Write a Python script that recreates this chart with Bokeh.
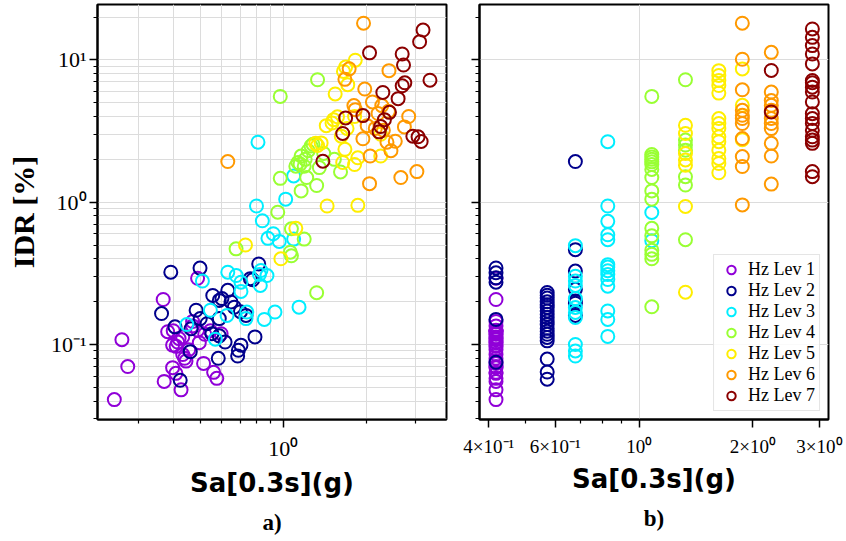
from bokeh.plotting import figure
from bokeh.models import Range1d, FixedTicker, CustomJSTickFormatter, Title
from bokeh.layouts import row
from bokeh.embed import file_html
from bokeh.resources import INLINE

levels = ["Hz Lev 1", "Hz Lev 2", "Hz Lev 3", "Hz Lev 4", "Hz Lev 5", "Hz Lev 6", "Hz Lev 7"]
colors = ["#9000d8", "#00008c", "#00eeff", "#99ff33", "#ffee00", "#ff9900", "#8b0000"]

# ---- panel a): Sa of each record vs IDR ----
hz1_sa_a = [0.368, 0.261, 0.274, 0.245, 0.371, 0.398, 0.409, 0.427, 0.515, 0.56, 0.575, 0.382, 0.398, 0.415, 0.433,
            0.433, 0.445, 0.44, 0.497, 0.49, 0.596, 0.49, 0.40, 0.47, 0.52, 0.455, 0.42, 0.545, 0.47, 0.41]
hz1_idr_a = [0.207, 0.108, 0.070, 0.041, 0.055, 0.0687, 0.0627, 0.048, 0.0736, 0.0637, 0.0578, 0.123, 0.099, 0.104, 0.113,
             0.085, 0.0764, 0.080, 0.103, 0.126, 0.119, 0.292, 0.125, 0.135, 0.118, 0.092, 0.110, 0.125, 0.145, 0.097]

hz2_sa_a = [0.392, 0.50, 0.775, 0.815, 0.63, 0.556, 0.587, 0.647, 0.665, 0.484, 0.363, 0.501, 0.587, 0.733, 0.406,
            0.464, 0.552, 0.587, 0.616, 0.703, 0.688, 0.684, 0.79, 0.461, 0.582, 0.424, 0.60, 0.70, 0.53, 0.76]
hz2_idr_a = [0.322, 0.344, 0.285, 0.368, 0.24, 0.221, 0.204, 0.199, 0.183, 0.174, 0.165, 0.152, 0.152, 0.160, 0.133,
             0.129, 0.119, 0.115, 0.104, 0.0989, 0.091, 0.083, 0.113, 0.089, 0.080, 0.056, 0.21, 0.17, 0.14, 0.29]

hz3_sa_a = [0.81, 1.09, 1.02, 0.80, 0.84, 0.88, 0.92, 0.967, 1.09, 0.51, 0.63, 0.676, 0.703, 0.703, 0.83,
            0.873, 0.826, 0.448, 0.545, 0.626, 0.738, 0.733, 0.854, 0.933, 1.14, 0.568, 0.82]
hz3_idr_a = [2.64, 1.53, 1.05, 0.94, 0.74, 0.557, 0.60, 0.53, 0.55, 0.279, 0.322, 0.305, 0.274, 0.236, 0.331,
             0.305, 0.26, 0.138, 0.174, 0.160, 0.169, 0.152, 0.150, 0.169, 0.183, 0.109, 0.31]

hz4_sa_a = [1.33, 0.975, 1.32, 1.53, 1.61, 1.35, 1.215, 1.32, 1.16, 0.975, 0.955, 1.16, 1.13, 1.19, 1.26,
            1.11, 1.19, 1.07, 1.06, 1.07, 0.675, 1.20, 1.23, 1.28, 1.15, 1.40]
hz4_idr_a = [7.25, 5.54, 0.231, 2.0, 1.63, 1.75, 1.49, 1.31, 1.20, 1.47, 0.85, 2.11, 1.90, 1.79, 2.48,
             1.79, 0.55, 0.65, 0.445, 0.42, 0.47, 2.0, 2.3, 2.55, 1.85, 2.2]

hz5_sa_a = [1.82, 1.65, 1.71, 1.54, 1.43, 1.52, 1.57, 1.81, 1.62, 1.67, 1.64, 1.81, 1.86, 2.25, 1.31,
            1.37, 1.44, 1.86, 0.73, 1.11, 0.98, 1.68, 2.25, 1.50, 1.70, 1.33]
hz5_idr_a = [9.95, 8.3, 6.7, 5.76, 3.45, 3.8, 3.98, 4.0, 2.91, 2.35, 1.90, 1.84, 2.05, 2.11, 2.59,
             2.61, 0.94, 0.95, 0.50, 0.655, 0.40, 8.9, 3.0, 3.6, 3.3, 2.5]

hz6_sa_a = [1.95, 2.41, 1.73, 1.67, 1.97, 2.10, 1.80, 2.27, 2.40, 2.84, 1.82, 2.74, 2.01, 1.94, 2.37,
            2.54, 2.06, 2.05, 2.66, 3.04, 0.63, 2.15, 2.30, 2.45, 2.20]
hz6_idr_a = [18.1, 8.4, 8.65, 7.3, 6.24, 5.06, 4.77, 4.77, 4.35, 4.0, 4.47, 3.38, 3.45, 2.79, 2.64,
             2.68, 2.11, 1.35, 1.49, 1.64, 1.93, 3.3, 3.2, 2.3, 4.2]

hz7_sa_a = [3.2, 3.11, 2.05, 2.69, 2.72, 3.39, 2.29, 2.69, 2.75, 2.60, 1.68, 1.94, 2.32, 2.42, 1.64,
            2.22, 2.94, 3.07, 3.15, 1.39, 2.25]
hz7_idr_a = [16.2, 13.4, 11.2, 11.0, 9.2, 7.2, 5.9, 6.58, 6.9, 5.34, 3.91, 4.06, 3.80, 4.28, 3.04,
             3.12, 2.91, 2.88, 2.67, 1.94, 3.4]

# ---- panel b): Sa of hazard level vs IDR ----
hz1_sa_b = [0.418] * 30
hz1_idr_b = hz1_idr_a

hz2_sa_b = [0.418] * 6 + [0.571] * 19 + [0.678] * 7
hz2_idr_b = [0.345, 0.319, 0.294, 0.274, 0.150, 0.075,
             0.232, 0.222, 0.212, 0.20, 0.19, 0.182, 0.172, 0.163, 0.155, 0.146, 0.138, 0.13, 0.124, 0.118,
             0.112, 0.106, 0.079, 0.064, 0.057,
             1.93, 0.464, 0.328, 0.244, 0.202, 0.195, 0.16]

hz3_sa_b = [0.678] * 11 + [0.826] * 14 + [1.08] * 2
hz3_idr_b = [0.495, 0.302, 0.279, 0.182, 0.168, 0.155, 0.10, 0.090, 0.083, 0.26, 0.21,
             2.66, 0.94, 0.733, 0.59, 0.545, 0.364, 0.35, 0.33, 0.31, 0.286, 0.257, 0.172, 0.150, 0.114,
             0.847, 0.536]

hz4_sa_b = [1.08] * 16 + [1.326] * 7
hz4_idr_b = [5.54, 2.16, 2.08, 2.0, 1.92, 1.84, 1.70, 1.49, 1.2, 1.05, 0.655, 0.58, 0.46, 0.43, 0.40, 0.184,
             7.25, 2.73, 2.52, 2.32, 1.51, 1.32, 0.545]

hz5_sa_b = [1.326] * 7 + [1.625] * 14 + [1.875] * 3
hz5_idr_b = [3.47, 3.04, 2.2, 1.98, 1.82, 0.933, 0.233,
             8.4, 7.77, 7.17, 6.6, 5.84, 3.87, 3.57, 3.29, 2.88, 2.66, 2.32, 2.03, 1.87, 1.61,
             8.64, 4.79, 2.75]

hz6_sa_b = [1.875] * 11 + [2.237] * 11
hz6_idr_b = [18.1, 10.1, 6.16, 4.42, 4.08, 3.87, 3.57, 2.8, 2.09, 1.78, 0.957,
             11.3, 5.94, 5.18, 4.79, 4.42, 3.87, 3.57, 3.29, 2.59, 2.11, 1.34]

hz7_sa_b = [2.237] * 2 + [2.873] * 19
hz7_idr_b = [8.43, 4.31,
             16.5, 14.4, 12.6, 11.0, 9.37, 7.17, 6.9, 6.43, 5.94, 5.06, 4.19, 3.87, 3.57, 3.2, 2.88, 2.73, 2.59,
             1.64, 1.51]

y_major = [0.1, 1, 10]
y_minor = [0.03, 0.04, 0.05, 0.06, 0.07, 0.08, 0.09, 0.2, 0.3, 0.4, 0.5, 0.6, 0.7, 0.8, 0.9,
           2, 3, 4, 5, 6, 7, 8, 9, 20]
xa_major = [1]
xa_minor = [0.3, 0.4, 0.5, 0.6, 0.7, 0.8, 0.9, 2, 3]
xb_major = [0.4, 0.6, 1, 2, 3]
xb_minor = [0.5, 0.7, 0.8, 0.9]

tick_text = {"0.1": "10⁻¹", "1": "10⁰", "10": "10¹", "0.4": "4×10⁻¹", "0.6": "6×10⁻¹",
             "2": "2×10⁰", "3": "3×10⁰"}

SERIF = "Liberation Serif"
GRID = "#dcdcdc"


def fmt(keys):
    m = {k: tick_text[k] for k in keys}
    return CustomJSTickFormatter(args=dict(m=m), code="""
        const k = String(tick);
        return (k in m) ? m[k] : "";
    """)


def base(xr, width, mbl, mbr):
    p = figure(width=width, height=541, x_axis_type="log", y_axis_type="log",
               x_range=Range1d(*xr), y_range=Range1d(0.0297, 24.5),
               output_backend="svg", toolbar_location=None,
               min_border_left=mbl, min_border_right=mbr, min_border_top=4, min_border_bottom=120)
    p.outline_line_color = "black"
    p.outline_line_width = 2
    p.background_fill_color = "white"
    p.border_fill_color = "white"
    for ax in (p.xaxis[0], p.yaxis[0]):
        ax.axis_line_color = "black"
        ax.axis_line_width = 2
        ax.major_tick_in = 0
        ax.minor_tick_in = 0
        ax.major_tick_out = 8
        ax.minor_tick_out = 4
        ax.major_tick_line_color = "black"
        ax.minor_tick_line_color = "black"
        ax.major_tick_line_width = 1.5
        ax.minor_tick_line_width = 1.2
        ax.major_label_text_color = "black"
        ax.major_label_text_font = SERIF
        ax.axis_label_text_color = "black"
        ax.axis_label_text_font_style = "bold"
    p.yaxis.ticker = FixedTicker(ticks=y_major, minor_ticks=y_minor)
    p.xaxis.axis_label = "Sa[0.3s](g)"
    p.xaxis.axis_label_text_font = "DejaVu Sans"
    p.xaxis.axis_label_text_font_size = "26px"
    p.xaxis.axis_label_standoff = 4
    p.xaxis.major_label_standoff = 8
    p.xgrid.grid_line_color = GRID
    p.ygrid.grid_line_color = GRID
    return p


pa = base((0.213, 3.89), 460, 97, 14)
pa.xaxis.ticker = FixedTicker(ticks=xa_major, minor_ticks=xa_minor)
pa.xaxis.formatter = fmt(["1"])
pa.xaxis.major_label_text_font_size = "22px"
pa.yaxis.formatter = fmt(["0.1", "1", "10"])
pa.yaxis.major_label_text_font_size = "22px"
pa.yaxis.major_label_standoff = 3
pa.yaxis.axis_label = "IDR [%]"
pa.yaxis.axis_label_text_font = SERIF
pa.yaxis.axis_label_text_font_size = "30px"
pa.yaxis.axis_label_standoff = 8
pa.xgrid.minor_grid_line_color = GRID
pa.ygrid.minor_grid_line_color = GRID
pa.add_layout(Title(text="a)", align="center", text_font=SERIF, text_font_size="23px",
                    text_font_style="bold", text_color="black", standoff=14), "below")

pb = base((0.378, 3.17), 386, 19, 18)
pb.xaxis.ticker = FixedTicker(ticks=xb_major, minor_ticks=xb_minor)
pb.xaxis.formatter = fmt(["0.4", "0.6", "1", "2", "3"])
pb.xaxis.major_label_text_font_size = "19px"
pb.yaxis.formatter = CustomJSTickFormatter(code="return '';")
pb.xgrid.ticker = FixedTicker(ticks=[1])
pb.add_layout(Title(text="b)", align="center", text_font=SERIF, text_font_size="23px",
                    text_font_style="bold", text_color="black", standoff=14), "below")

data_a = [(hz1_sa_a, hz1_idr_a), (hz2_sa_a, hz2_idr_a), (hz3_sa_a, hz3_idr_a), (hz4_sa_a, hz4_idr_a),
          (hz5_sa_a, hz5_idr_a), (hz6_sa_a, hz6_idr_a), (hz7_sa_a, hz7_idr_a)]
data_b = [(hz1_sa_b, hz1_idr_b), (hz2_sa_b, hz2_idr_b), (hz3_sa_b, hz3_idr_b), (hz4_sa_b, hz4_idr_b),
          (hz5_sa_b, hz5_idr_b), (hz6_sa_b, hz6_idr_b), (hz7_sa_b, hz7_idr_b)]

for (xs, ys), c in zip(data_a, colors):
    pa.scatter(xs, ys, marker="circle", size=13, fill_color=None, line_color=c, line_width=2)

for (xs, ys), c, lab in zip(data_b, colors, levels):
    pb.scatter(xs, ys, marker="circle", size=13, fill_color=None, line_color=c, line_width=2,
               legend_label=lab)

lg = pb.legend[0]
lg.location = "bottom_right"
lg.label_text_font = SERIF
lg.label_text_font_size = "18px"
lg.label_text_color = "black"
lg.glyph_width = 26
lg.glyph_height = 21
lg.label_height = 21
lg.spacing = 0
lg.padding = 4
lg.margin = 8
lg.label_standoff = 4
lg.border_line_color = "#cccccc"
lg.border_line_width = 1.5
lg.background_fill_alpha = 0.85

layout = row(pa, pb)
open("out.html", "w").write(file_html(layout, INLINE))
